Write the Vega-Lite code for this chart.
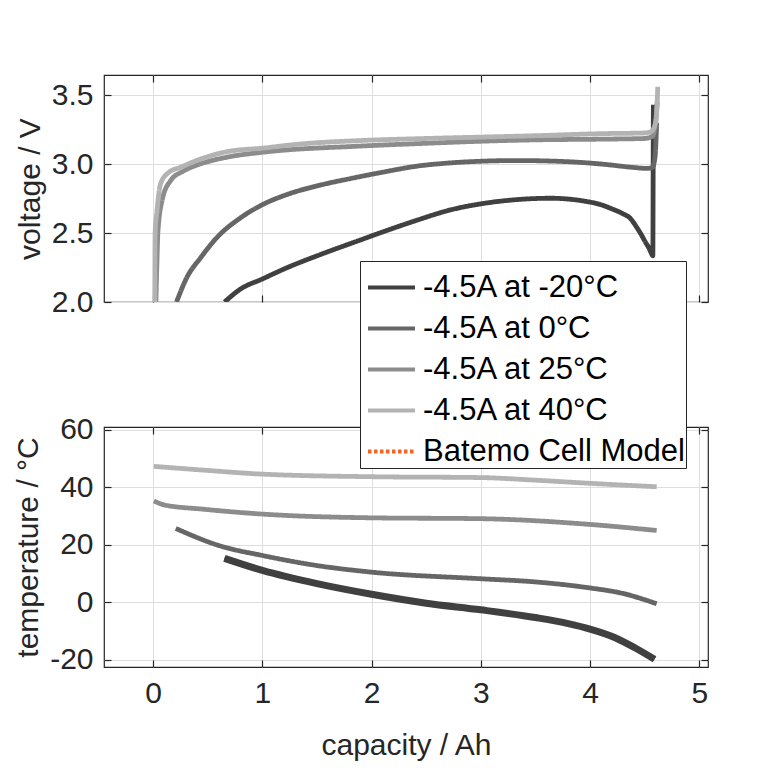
{
  "$schema": "https://vega.github.io/schema/vega-lite/v6.json",
  "background": "white",
  "padding": {"left": 13, "top": 73, "right": 0, "bottom": 0},
  "spacing": 96,
  "datasets": {
    "volt": [
      {"series": "-4.5A at -20°C", "i": 1, "cap": 0.654, "v": 2.0},
      {"series": "-4.5A at -20°C", "i": 2, "cap": 0.8, "v": 2.094},
      {"series": "-4.5A at -20°C", "i": 3, "cap": 1.0, "v": 2.167},
      {"series": "-4.5A at -20°C", "i": 4, "cap": 1.23, "v": 2.25},
      {"series": "-4.5A at -20°C", "i": 5, "cap": 1.535, "v": 2.345},
      {"series": "-4.5A at -20°C", "i": 6, "cap": 1.9, "v": 2.45},
      {"series": "-4.5A at -20°C", "i": 7, "cap": 2.11, "v": 2.51},
      {"series": "-4.5A at -20°C", "i": 8, "cap": 2.42, "v": 2.594},
      {"series": "-4.5A at -20°C", "i": 9, "cap": 2.72, "v": 2.667},
      {"series": "-4.5A at -20°C", "i": 10, "cap": 3.03, "v": 2.715},
      {"series": "-4.5A at -20°C", "i": 11, "cap": 3.33, "v": 2.742},
      {"series": "-4.5A at -20°C", "i": 12, "cap": 3.64, "v": 2.752},
      {"series": "-4.5A at -20°C", "i": 13, "cap": 3.8, "v": 2.746},
      {"series": "-4.5A at -20°C", "i": 14, "cap": 3.94, "v": 2.732},
      {"series": "-4.5A at -20°C", "i": 15, "cap": 4.1, "v": 2.705},
      {"series": "-4.5A at -20°C", "i": 16, "cap": 4.2, "v": 2.675},
      {"series": "-4.5A at -20°C", "i": 17, "cap": 4.3, "v": 2.64},
      {"series": "-4.5A at -20°C", "i": 18, "cap": 4.37, "v": 2.605},
      {"series": "-4.5A at -20°C", "i": 19, "cap": 4.42, "v": 2.55},
      {"series": "-4.5A at -20°C", "i": 20, "cap": 4.46, "v": 2.5},
      {"series": "-4.5A at -20°C", "i": 21, "cap": 4.51, "v": 2.43},
      {"series": "-4.5A at -20°C", "i": 22, "cap": 4.54, "v": 2.39},
      {"series": "-4.5A at -20°C", "i": 23, "cap": 4.56, "v": 2.355},
      {"series": "-4.5A at -20°C", "i": 24, "cap": 4.575, "v": 2.335},
      {"series": "-4.5A at -20°C", "i": 25, "cap": 4.578, "v": 3.0},
      {"series": "-4.5A at -20°C", "i": 26, "cap": 4.58, "v": 3.43},
      {"series": "-4.5A at 0°C", "i": 1, "cap": 0.214, "v": 2.0},
      {"series": "-4.5A at 0°C", "i": 2, "cap": 0.31, "v": 2.18},
      {"series": "-4.5A at 0°C", "i": 3, "cap": 0.434, "v": 2.32},
      {"series": "-4.5A at 0°C", "i": 4, "cap": 0.587, "v": 2.47},
      {"series": "-4.5A at 0°C", "i": 5, "cap": 0.8, "v": 2.61},
      {"series": "-4.5A at 0°C", "i": 6, "cap": 1.0, "v": 2.705},
      {"series": "-4.5A at 0°C", "i": 7, "cap": 1.23, "v": 2.78},
      {"series": "-4.5A at 0°C", "i": 8, "cap": 1.535, "v": 2.848},
      {"series": "-4.5A at 0°C", "i": 9, "cap": 1.81, "v": 2.895},
      {"series": "-4.5A at 0°C", "i": 10, "cap": 2.11, "v": 2.942},
      {"series": "-4.5A at 0°C", "i": 11, "cap": 2.42, "v": 2.985},
      {"series": "-4.5A at 0°C", "i": 12, "cap": 2.72, "v": 3.008},
      {"series": "-4.5A at 0°C", "i": 13, "cap": 3.0, "v": 3.02},
      {"series": "-4.5A at 0°C", "i": 14, "cap": 3.33, "v": 3.025},
      {"series": "-4.5A at 0°C", "i": 15, "cap": 3.79, "v": 3.017},
      {"series": "-4.5A at 0°C", "i": 16, "cap": 4.1, "v": 3.0},
      {"series": "-4.5A at 0°C", "i": 17, "cap": 4.4, "v": 2.975},
      {"series": "-4.5A at 0°C", "i": 18, "cap": 4.52, "v": 2.968},
      {"series": "-4.5A at 0°C", "i": 19, "cap": 4.57, "v": 2.975},
      {"series": "-4.5A at 0°C", "i": 20, "cap": 4.595, "v": 3.05},
      {"series": "-4.5A at 0°C", "i": 21, "cap": 4.61, "v": 3.3},
      {"series": "-4.5A at 25°C", "i": 1, "cap": 0.025, "v": 2.0},
      {"series": "-4.5A at 25°C", "i": 2, "cap": 0.035, "v": 2.3},
      {"series": "-4.5A at 25°C", "i": 3, "cap": 0.043, "v": 2.5},
      {"series": "-4.5A at 25°C", "i": 4, "cap": 0.083, "v": 2.74},
      {"series": "-4.5A at 25°C", "i": 5, "cap": 0.16, "v": 2.88},
      {"series": "-4.5A at 25°C", "i": 6, "cap": 0.28, "v": 2.95},
      {"series": "-4.5A at 25°C", "i": 7, "cap": 0.43, "v": 3.0},
      {"series": "-4.5A at 25°C", "i": 8, "cap": 0.68, "v": 3.05},
      {"series": "-4.5A at 25°C", "i": 9, "cap": 1.0, "v": 3.085},
      {"series": "-4.5A at 25°C", "i": 10, "cap": 1.9, "v": 3.13},
      {"series": "-4.5A at 25°C", "i": 11, "cap": 2.5, "v": 3.15},
      {"series": "-4.5A at 25°C", "i": 12, "cap": 3.0, "v": 3.165},
      {"series": "-4.5A at 25°C", "i": 13, "cap": 3.5, "v": 3.175},
      {"series": "-4.5A at 25°C", "i": 14, "cap": 4.1, "v": 3.18},
      {"series": "-4.5A at 25°C", "i": 15, "cap": 4.5, "v": 3.185},
      {"series": "-4.5A at 25°C", "i": 16, "cap": 4.57, "v": 3.2},
      {"series": "-4.5A at 25°C", "i": 17, "cap": 4.6, "v": 3.3},
      {"series": "-4.5A at 25°C", "i": 18, "cap": 4.615, "v": 3.45},
      {"series": "-4.5A at 40°C", "i": 1, "cap": 0.015, "v": 2.0},
      {"series": "-4.5A at 40°C", "i": 2, "cap": 0.018, "v": 2.5},
      {"series": "-4.5A at 40°C", "i": 3, "cap": 0.035, "v": 2.66},
      {"series": "-4.5A at 40°C", "i": 4, "cap": 0.067, "v": 2.855},
      {"series": "-4.5A at 40°C", "i": 5, "cap": 0.144, "v": 2.94},
      {"series": "-4.5A at 40°C", "i": 6, "cap": 0.25, "v": 2.976},
      {"series": "-4.5A at 40°C", "i": 7, "cap": 0.434, "v": 3.036},
      {"series": "-4.5A at 40°C", "i": 8, "cap": 0.68, "v": 3.09},
      {"series": "-4.5A at 40°C", "i": 9, "cap": 1.0, "v": 3.115},
      {"series": "-4.5A at 40°C", "i": 10, "cap": 1.35, "v": 3.145},
      {"series": "-4.5A at 40°C", "i": 11, "cap": 1.9, "v": 3.17},
      {"series": "-4.5A at 40°C", "i": 12, "cap": 2.5, "v": 3.185},
      {"series": "-4.5A at 40°C", "i": 13, "cap": 3.0, "v": 3.195},
      {"series": "-4.5A at 40°C", "i": 14, "cap": 3.5, "v": 3.205},
      {"series": "-4.5A at 40°C", "i": 15, "cap": 4.1, "v": 3.22},
      {"series": "-4.5A at 40°C", "i": 16, "cap": 4.5, "v": 3.225},
      {"series": "-4.5A at 40°C", "i": 17, "cap": 4.56, "v": 3.235},
      {"series": "-4.5A at 40°C", "i": 18, "cap": 4.6, "v": 3.3},
      {"series": "-4.5A at 40°C", "i": 19, "cap": 4.615, "v": 3.45},
      {"series": "-4.5A at 40°C", "i": 20, "cap": 4.62, "v": 3.56}
    ],
    "temp": [
      {"series": "-4.5A at -20°C", "i": 1, "cap": 0.653, "t": 15.3},
      {"series": "-4.5A at -20°C", "i": 2, "cap": 1.0, "t": 11.1},
      {"series": "-4.5A at -20°C", "i": 3, "cap": 1.5, "t": 6.5},
      {"series": "-4.5A at -20°C", "i": 4, "cap": 2.0, "t": 2.8},
      {"series": "-4.5A at -20°C", "i": 5, "cap": 2.5, "t": -0.3},
      {"series": "-4.5A at -20°C", "i": 6, "cap": 3.0, "t": -2.6},
      {"series": "-4.5A at -20°C", "i": 7, "cap": 3.5, "t": -5.3},
      {"series": "-4.5A at -20°C", "i": 8, "cap": 3.8, "t": -7.4},
      {"series": "-4.5A at -20°C", "i": 9, "cap": 4.0, "t": -9.3},
      {"series": "-4.5A at -20°C", "i": 10, "cap": 4.23, "t": -12.3},
      {"series": "-4.5A at -20°C", "i": 11, "cap": 4.41, "t": -15.8},
      {"series": "-4.5A at -20°C", "i": 12, "cap": 4.59, "t": -19.8},
      {"series": "-4.5A at 0°C", "i": 1, "cap": 0.207, "t": 25.7},
      {"series": "-4.5A at 0°C", "i": 2, "cap": 0.616, "t": 19.6},
      {"series": "-4.5A at 0°C", "i": 3, "cap": 1.0, "t": 16.3},
      {"series": "-4.5A at 0°C", "i": 4, "cap": 1.5, "t": 12.8},
      {"series": "-4.5A at 0°C", "i": 5, "cap": 2.0, "t": 10.5},
      {"series": "-4.5A at 0°C", "i": 6, "cap": 3.0, "t": 8.2},
      {"series": "-4.5A at 0°C", "i": 7, "cap": 3.5, "t": 7.1},
      {"series": "-4.5A at 0°C", "i": 8, "cap": 4.0, "t": 5.0},
      {"series": "-4.5A at 0°C", "i": 9, "cap": 4.3, "t": 3.1},
      {"series": "-4.5A at 0°C", "i": 10, "cap": 4.61, "t": -0.5},
      {"series": "-4.5A at 25°C", "i": 1, "cap": 0.007, "t": 35.3},
      {"series": "-4.5A at 25°C", "i": 2, "cap": 0.1, "t": 33.9},
      {"series": "-4.5A at 25°C", "i": 3, "cap": 0.46, "t": 32.4},
      {"series": "-4.5A at 25°C", "i": 4, "cap": 1.0, "t": 30.7},
      {"series": "-4.5A at 25°C", "i": 5, "cap": 2.0, "t": 29.4},
      {"series": "-4.5A at 25°C", "i": 6, "cap": 3.0, "t": 29.1},
      {"series": "-4.5A at 25°C", "i": 7, "cap": 4.0, "t": 27.1},
      {"series": "-4.5A at 25°C", "i": 8, "cap": 4.61, "t": 25.0},
      {"series": "-4.5A at 40°C", "i": 1, "cap": 0.007, "t": 47.3},
      {"series": "-4.5A at 40°C", "i": 2, "cap": 0.46, "t": 46.0},
      {"series": "-4.5A at 40°C", "i": 3, "cap": 1.0, "t": 44.6},
      {"series": "-4.5A at 40°C", "i": 4, "cap": 2.0, "t": 43.7},
      {"series": "-4.5A at 40°C", "i": 5, "cap": 3.0, "t": 43.4},
      {"series": "-4.5A at 40°C", "i": 6, "cap": 3.5, "t": 42.5},
      {"series": "-4.5A at 40°C", "i": 7, "cap": 4.0, "t": 41.4},
      {"series": "-4.5A at 40°C", "i": 8, "cap": 4.61, "t": 40.2}
    ]
  },
  "vconcat": [
    {
      "width": 604,
      "height": 227,
      "data": {"name": "volt"},
      "layer": [
        {
          "mark": {"type": "line", "strokeWidth": 4.8, "clip": true, "interpolate": "monotone"},
          "encoding": {
            "x": {
              "field": "cap", "type": "quantitative",
              "scale": {"domain": [-0.45, 5.08], "nice": false, "zero": false},
              "axis": {"orient": "bottom", "values": [0, 1, 2, 3, 4, 5], "labels": false, "title": null, "grid": true}
            },
            "y": {
              "field": "v", "type": "quantitative",
              "scale": {"domain": [2.0, 3.645], "nice": false, "zero": false},
              "axis": {"orient": "left", "values": [2.0, 2.5, 3.0, 3.5], "format": ".1f", "title": "voltage / V", "grid": true}
            },
            "color": {
              "field": "series", "type": "nominal",
              "scale": {
                "domain": ["-4.5A at -20°C", "-4.5A at 0°C", "-4.5A at 25°C", "-4.5A at 40°C", "Batemo Cell Model"],
                "range": ["#404040", "#666666", "#8c8c8c", "#b3b3b3", "#f26522"]
              },
              "legend": {"orient": "none", "legendX": 256, "legendY": 186, "title": null}
            },
            "strokeDash": {
              "field": "series", "type": "nominal",
              "scale": {
                "domain": ["-4.5A at -20°C", "-4.5A at 0°C", "-4.5A at 25°C", "-4.5A at 40°C", "Batemo Cell Model"],
                "range": [[1, 0], [1, 0], [1, 0], [1, 0], [3.5, 2.5]]
              },
              "legend": {"orient": "none", "legendX": 256, "legendY": 186, "title": null}
            },
            "order": {"field": "i", "type": "quantitative"}
          }
        },
        {
          "mark": {"type": "line", "strokeOpacity": 0},
          "encoding": {
            "x": {"field": "cap", "type": "quantitative", "axis": {"orient": "top", "values": [0, 1, 2, 3, 4, 5], "labels": false, "title": null, "grid": false}},
            "y": {"field": "v", "type": "quantitative", "axis": {"orient": "right", "values": [2.0, 2.5, 3.0, 3.5], "labels": false, "title": null, "grid": false}},
            "detail": {"field": "series"},
            "order": {"field": "i", "type": "quantitative"}
          }
        }
      ],
      "resolve": {"axis": {"x": "independent", "y": "independent"}}
    },
    {
      "width": 604,
      "height": 240,
      "data": {"name": "temp"},
      "layer": [
        {
          "mark": {"type": "line", "strokeWidth": 4.8, "clip": true, "interpolate": "monotone"},
          "encoding": {
            "x": {
              "field": "cap", "type": "quantitative",
              "scale": {"domain": [-0.45, 5.08], "nice": false, "zero": false},
              "axis": {"orient": "bottom", "values": [0, 1, 2, 3, 4, 5], "title": "capacity / Ah", "grid": true}
            },
            "y": {
              "field": "t", "type": "quantitative",
              "scale": {"domain": [-22.5, 61], "nice": false, "zero": false},
              "axis": {"orient": "left", "values": [-20, 0, 20, 40, 60], "labelExpr": "replace(datum.label, '−', '-')", "title": "temperature / °C", "grid": true}
            },
            "color": {
              "field": "series", "type": "nominal",
              "scale": {
                "domain": ["-4.5A at -20°C", "-4.5A at 0°C", "-4.5A at 25°C", "-4.5A at 40°C", "Batemo Cell Model"],
                "range": ["#404040", "#666666", "#8c8c8c", "#b3b3b3", "#f26522"]
              },
              "legend": {"orient": "none", "legendX": 256, "legendY": 186, "title": null}
            },
            "strokeDash": {
              "field": "series", "type": "nominal",
              "scale": {
                "domain": ["-4.5A at -20°C", "-4.5A at 0°C", "-4.5A at 25°C", "-4.5A at 40°C", "Batemo Cell Model"],
                "range": [[1, 0], [1, 0], [1, 0], [1, 0], [3.5, 2.5]]
              },
              "legend": {"orient": "none", "legendX": 256, "legendY": 186, "title": null}
            },
            "order": {"field": "i", "type": "quantitative"}
          }
        },
        {
          "transform": [{"filter": "datum.series == '-4.5A at -20°C'"}],
          "mark": {"type": "line", "strokeWidth": 7, "color": "#404040", "interpolate": "monotone"},
          "encoding": {
            "x": {"field": "cap", "type": "quantitative", "axis": {"orient": "top", "values": [0, 1, 2, 3, 4, 5], "labels": false, "title": null, "grid": false}},
            "y": {"field": "t", "type": "quantitative", "axis": {"orient": "right", "values": [-20, 0, 20, 40, 60], "labels": false, "title": null, "grid": false}},
            "order": {"field": "i", "type": "quantitative"}
          }
        }
      ],
      "resolve": {"axis": {"x": "independent", "y": "independent"}}
    }
  ],
  "config": {
    "font": "Liberation Sans",
    "view": {"stroke": "#262626", "strokeWidth": 1.2},
    "axis": {
      "domain": false,
      "tickSize": -7,
      "tickColor": "#262626",
      "tickWidth": 1.2,
      "labelFont": "Liberation Sans",
      "labelFontSize": 30,
      "labelColor": "#262626",
      "labelPadding": 18,
      "titleFont": "Liberation Sans",
      "titleFontSize": 30,
      "titleFontWeight": "normal",
      "titleColor": "#262626",
      "titlePadding": 6,
      "gridColor": "#dedede",
      "gridWidth": 1
    },
    "axisBottom": {"titlePadding": 22},
    "legend": {
      "zindex": 2,
      "fillColor": "white",
      "strokeColor": "#262626",
      "padding": 1,
      "symbolType": "stroke",
      "symbolSize": 2209,
      "symbolStrokeWidth": 4,
      "symbolOffset": 5,
      "labelOffset": 6,
      "labelFont": "Liberation Sans",
      "labelFontSize": 31,
      "labelColor": "black",
      "labelLimit": 400,
      "rowPadding": -6
    }
  }
}
